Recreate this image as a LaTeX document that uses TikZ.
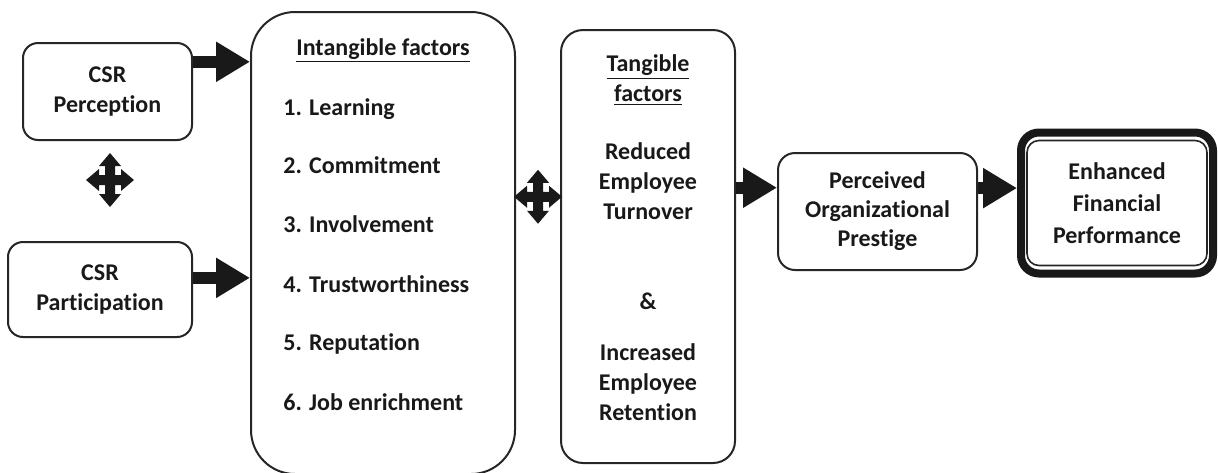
\documentclass[tikz,border=0pt]{standalone}
\usepackage{fontspec}
\setmainfont{Carlito}[Ligatures=NoCommon]
\usetikzlibrary{arrows.meta, calc}

\begin{document}
\begin{tikzpicture}[
        x=0.5pt, y=-0.5pt,
        every node/.style={align=center, text=black!90,
                           font=\fontsize{12}{15}\selectfont\bfseries},
        box/.style={draw=black!85, line width=1pt, rounded corners=#1, inner sep=0pt},
        box/.default=8pt,
        item/.style={anchor=base west, inner sep=0pt},
        arr/.style={-{Triangle[length=17pt, width=19pt]}, line width=6pt, black!90},
        % four-way arrow symbol
        moveicon/.pic={
            \fill[black!90] (24,0) -- (11,-11) -- (11,-5) -- (5,-5) -- (5,-14) -- (11,-14)
                -- (0,-27) -- (-11,-14) -- (-5,-14) -- (-5,-5) -- (-11,-5) -- (-11,-11)
                -- (-24,0) -- (-11,11) -- (-11,5) -- (-5,5) -- (-5,14) -- (-11,14)
                -- (0,27) -- (11,14) -- (5,14) -- (5,5) -- (11,5) -- (11,11) -- cycle;
        }
    ]
        \fill[white] (0,0) rectangle (1218,472);
        \useasboundingbox (0,0) rectangle (1218,472);

        % CSR inputs
        \node[box=7.5pt, minimum width=84.5pt, minimum height=48.5pt] (percep)
              at (107.5,91.5) {CSR\\Perception};
        \node[box=7.5pt, minimum width=92pt, minimum height=47.5pt] (particip)
              at (100,289.5) {CSR\\Participation};

        % intangible factors
        \node[box=22pt, minimum width=132pt, minimum height=231pt] (intang) at (383,243) {};
        \node[anchor=base] (intitle) at (383,55) {\underline{Intangible factors}};
        \node[item] (learn)  at (283,115.5) {1. Learning};
        \node[item] (commit) at (283,173.5) {2. Commitment};
        \node[item] (involv) at (283,232.5) {3. Involvement};
        \node[item] (trust)  at (283,292)   {4. Trustworthiness};
        \node[item] (reput)  at (283,350.5) {5. Reputation};
        \node[item] (enrich) at (283,410)   {6. Job enrichment};

        % tangible factors
        \node[box=11pt, minimum width=87pt, minimum height=216.5pt] (tang) at (648,246.5) {};
        \node (tgtitle)  at (648,80)  {\underline{Tangible}\\\underline{factors}};
        \node (turnover) at (648,181) {Reduced\\Employee\\Turnover};
        \node (amp)      at (648,301) {\&};
        \node (retain)   at (648,382) {Increased\\Employee\\Retention};

        % outcomes
        \node[box=8.5pt, minimum width=99.5pt, minimum height=58.5pt,
              font=\fontsize{12}{14.5}\selectfont\bfseries] (prestige)
              at (877.5,211.5) {Perceived\\Organizational\\Prestige};
        \node[box=9pt, line width=4pt, draw=black!90, minimum width=96pt, minimum height=70.5pt,
              font=\fontsize{12}{16}\selectfont\bfseries] (finance)
              at (1117,203) {Enhanced\\Financial\\Performance};
        \draw[black!85, line width=0.8pt, rounded corners=6pt]
              ([shift={(10,12)}]finance.north west) rectangle ([shift={(-10,-12)}]finance.south east);

        % arrows
        \coordinate (a1) at ($(percep.north east)!0.2!(percep.south east)$);
        \coordinate (a2) at ($(particip.north east)!0.38!(particip.south east)$);
        \coordinate (a3) at ($(prestige.north west)!0.3!(prestige.south west)$);
        \coordinate (a4) at ($(finance.north west)!0.4!(finance.south west)$);
        \draw[arr] (a1) -- (a1 -| intang.west);
        \draw[arr] (a2) -- (a2 -| intang.west);
        \draw[arr] (a3 -| tang.east) -- (a3);
        \draw[arr] (a4 -| prestige.east) -- (a4);

        % two-way links
        \coordinate (sw1) at (110,180);
        \coordinate (sw2) at ($(intang.east)!0.5!(tang.west) + (0,-48)$);
        \pic at (sw1) {moveicon};
        \pic at (sw2) {moveicon};
    \end{tikzpicture}
\end{document}
